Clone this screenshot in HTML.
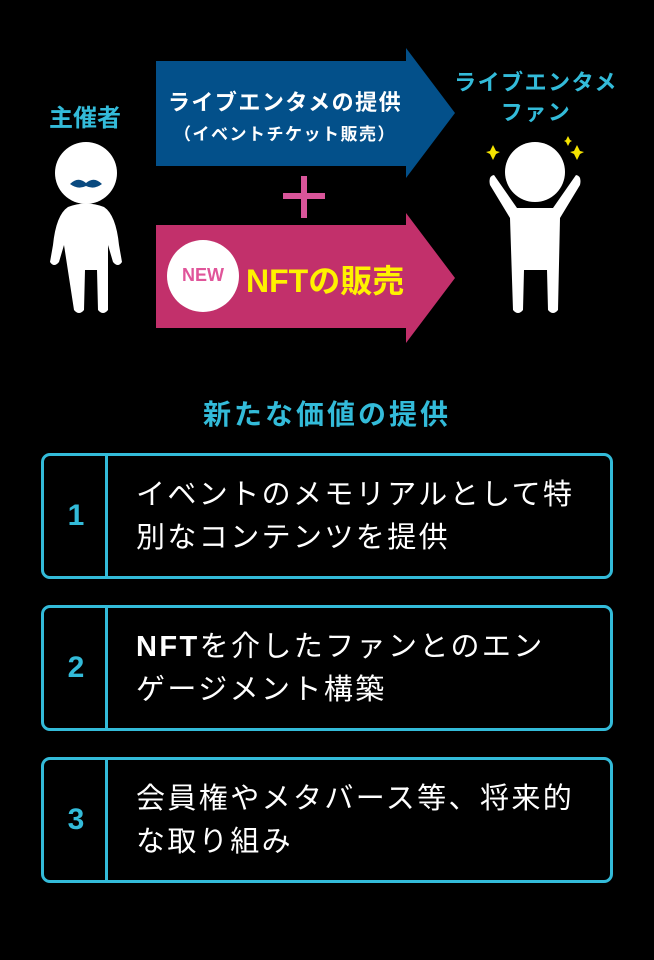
<!DOCTYPE html>
<html><head><meta charset="utf-8"><style>
body{margin:0;width:654px;height:960px;background:#000;position:relative;overflow:hidden;font-family:"Liberation Sans","Noto Sans CJK JP",sans-serif}
.a{position:absolute}
.box{position:absolute;left:41px;width:566px;height:120px;border:3px solid #33bbd9;border-radius:9px}
.box .div{position:absolute;left:61px;top:0;bottom:0;width:3px;background:#33bbd9}
.box .n{position:absolute;left:0;width:64px;top:0;height:120px;line-height:120px;text-align:center;color:#33bbd9;font-weight:bold;font-size:30px}
.box .t{position:absolute;left:92px;top:18px;color:#fff;font-size:29px;line-height:43px;letter-spacing:2.4px;white-space:nowrap}
</style></head><body>
<svg class="a" style="left:0;top:0" width="654" height="360">
<polygon points="156,61 406,61 406,48 455,113 406,178 406,166 156,166" fill="#03508a"/>
<polygon points="156,225 406,225 406,213 455,278 406,343 406,328 156,328" fill="#c2306b"/>
<rect x="283" y="193" width="42" height="6" fill="#d9559a"/>
<rect x="301" y="176" width="6" height="42" fill="#d9559a"/>
<circle cx="203" cy="276" r="36" fill="#fff"/>
<g fill="#fff">
<ellipse cx="86" cy="173" rx="31" ry="31"/>
<path d="M68,207 Q86,200 104,207 Q116,215 119,245 L122,262 Q118,268 113,262 L108,245 L108,310 Q103,316 98,310 L97,270 L85,270 L84,310 Q79,316 74,310 L64,245 L59,262 Q54,268 50,262 L53,245 Q56,215 68,207Z"/>
</g>
<path d="M70,184 Q78,176 86,183 Q94,176 102,184 Q94,190 86,186 Q78,190 70,184Z" fill="#0a4a80"/>
<g fill="#fff">
<circle cx="535" cy="172" r="30"/>
<path d="M510,218 L490,185 Q488,176 494,175 L517,208 L553,208 L576,175 Q582,176 580,185 L560,218 L558,310 Q553,316 548,310 L547,270 L524,270 L523,310 Q518,316 513,310 Z"/>
</g>
<g fill="#f5e400">
<path d="M493,145 L496,151 L500,152 L496,154 L493,160 L490,154 L486,152 L490,151Z"/>
<path d="M577,145 L580,151 L584,152 L580,154 L577,160 L574,154 L570,152 L574,151Z"/>
<path d="M568,136 L570,140 L572,141 L570,142 L568,146 L566,142 L564,141 L566,140Z"/>
</g>
</svg>
<div class="a" style="left:49px;top:98px;color:#33bbd9;font-weight:bold;font-size:24px">主催者</div>
<div class="a" style="left:446px;top:68px;width:180px;text-align:center;color:#33bbd9;font-weight:bold;font-size:22px;letter-spacing:1.5px;line-height:30px">ライブエンタメ<br>ファン</div>
<div class="a" style="left:156px;top:85px;width:258px;text-align:center;color:#fff;font-weight:bold;font-size:22px;letter-spacing:1.5px">ライブエンタメの提供</div>
<div class="a" style="left:156px;top:120px;width:258px;text-align:center;color:#fff;font-weight:bold;font-size:17px;letter-spacing:1.5px">（イベントチケット販売）</div>
<div class="a" style="left:167px;top:265px;width:72px;text-align:center;color:#e0559a;font-weight:bold;font-size:18px">NEW</div>
<div class="a" style="left:246px;top:256px;color:#fff200;font-weight:bold;font-size:32px">NFTの販売</div>
<div class="a" style="left:0;top:393px;width:654px;text-align:center;color:#33bbd9;font-weight:bold;font-size:28px;letter-spacing:3px">新たな価値の提供</div>
<div class="box" style="top:453px"><div class="div"></div><div class="n">1</div><div class="t">イベントのメモリアルとして特<br>別なコンテンツを提供</div></div>
<div class="box" style="top:605px"><div class="div"></div><div class="n">2</div><div class="t"><b>NFT</b>を介したファンとのエン<br>ゲージメント構築</div></div>
<div class="box" style="top:757px"><div class="div"></div><div class="n">3</div><div class="t">会員権やメタバース等、将来的<br>な取り組み</div></div>
</body></html>
